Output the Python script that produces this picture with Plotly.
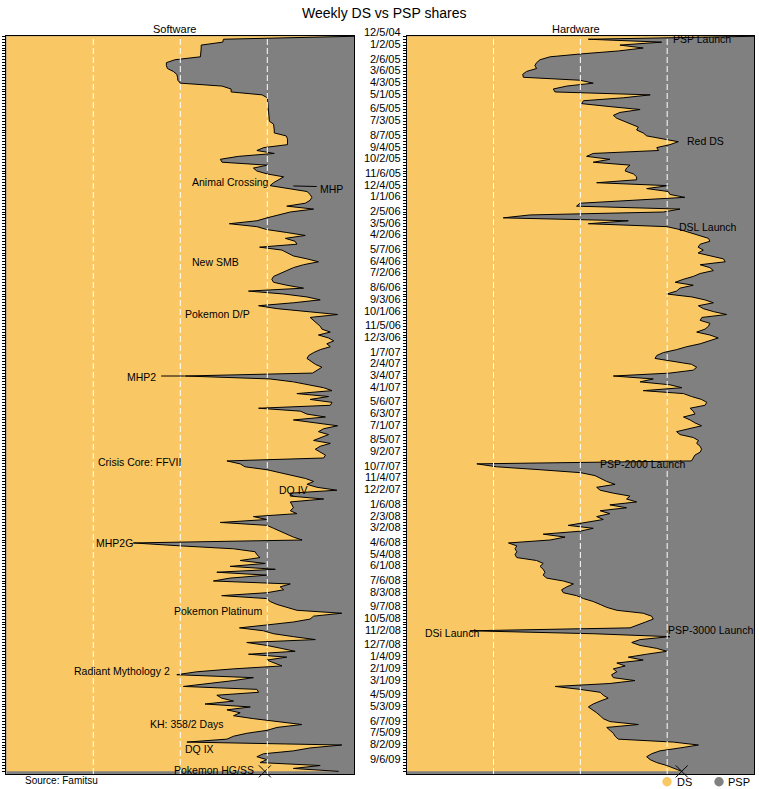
import pandas as pd
import plotly.graph_objects as go

W, H = 759, 789

# ---------------- data (weekly DS share, %) ----------------
week_start = "2004-12-05"

software_ds = [
    100, 62.4, 62.2, 56.0, 56.0, 56.0, 55.9, 55.8, 48.5, 46.0,
    46.0, 46.3, 48.0, 49.0, 49.2, 49.3, 50.0, 62.0, 64.6, 64.6,
    73.5, 75.0, 75.1, 75.2, 75.2, 75.2, 75.4, 75.4, 75.5, 75.6,
    76.8, 77.0, 77.0, 77.0, 80.4, 80.8, 80.8, 80.8, 74.0, 72.0,
    77.0, 66.7, 61.5, 62.0, 75.0, 71.0, 72.0, 75.0, 79.7, 78.2,
    76.8, 75.8, 81.6, 86.4, 87.3, 87.8, 87.3, 85.9, 80.6, 88.3,
    81.6, 77.8, 74.9, 72.0, 64.1, 72.0, 74.9, 80.6, 85.9, 80.2,
    83.0, 83.5, 72.8, 79.2, 81.1, 82.5, 86.4, 89.7, 85.4, 82.5,
    80.6, 78.7, 76.8, 76.3, 76.8, 80.6, 85.4, 69.6, 79.7, 86.4,
    90.2, 82.5, 72.5, 77.8, 87.3, 95.2, 87.3, 88.3, 89.3, 90.2,
    90.7, 93.1, 89.7, 92.6, 94.1, 92.1, 93.1, 90.2, 88.3, 86.9,
    86.4, 87.8, 88.8, 90.7, 89.3, 88.0, 51.4, 75.8, 82.5, 87.3,
    91.2, 93.6, 83.5, 92.6, 87.3, 93.6, 93.1, 72.5, 84.5, 86.4,
    91.7, 82.5, 88.3, 95.2, 91.2, 89.7, 92.6, 90.2, 88.3, 93.1,
    90.2, 88.8, 90.2, 91.7, 91.2, 63.4, 67.2, 68.6, 74.9, 78.7,
    82.0, 86.0, 88.3, 86.4, 89.3, 95.0, 81.6, 81.6, 91.2, 81.6,
    82.1, 82.5, 81.6, 83.5, 71.0, 74.9, 61.5, 74.9, 76.8, 78.7,
    80.6, 82.5, 85.0, 36.5, 50.0, 65.3, 71.5, 72.0, 72.9, 67.2,
    74.4, 64.3, 77.3, 60.5, 74.9, 64.3, 59.5, 81.6, 78.7, 79.7,
    74.9, 61.9, 74.9, 75.8, 77.8, 80.6, 83.5, 96.4, 88.3, 87.3,
    82.5, 74.9, 67.0, 73.9, 76.8, 82.5, 88.8, 69.1, 74.9, 79.0,
    83.0, 69.6, 80.6, 74.9, 77.3, 79.2, 65.3, 54.7, 49.0, 71.0,
    65.3, 57.6, 50.9, 72.0, 72.5, 60.5, 61.9, 65.3, 57.1, 70.1,
    63.4, 67.2, 65.3, 71.0, 77.8, 84.9, 77.8, 74.9, 69.1, 65.3,
    63.4, 51.9, 96.4, 87.3, 82.5, 73.9, 72.0, 74.9, 72.9, 90.2,
    82.5, 95.5,
]

hardware_ds = [
    100, 52.3, 73.4, 61.4, 68.1, 61.0, 50.4, 41.3, 38.4, 37.4,
    36.9, 37.4, 34.5, 33.4, 33.6, 49.9, 53.7, 46.1, 42.2, 42.7,
    70.1, 62.4, 50.9, 50.4, 58.5, 67.2, 61.4, 59.5, 60.5, 62.7,
    64.3, 66.7, 66.2, 68.1, 69.1, 73.9, 78.2, 75.8, 72.0, 72.5,
    53.7, 51.8, 58.5, 53.7, 64.3, 63.3, 62.9, 65.3, 66.2, 66.2,
    54.7, 75.3, 69.1, 75.3, 75.8, 80.1, 65.3, 49.9, 48.9, 78.7,
    73.9, 35.5, 27.8, 63.8, 52.3, 74.9, 78.7, 81.6, 84.5, 86.9,
    87.3, 84.5, 83.9, 85.4, 83.9, 87.3, 91.2, 91.7, 84.5, 87.3,
    88.3, 84.5, 82.5, 79.6, 77.3, 82.5, 78.7, 77.7, 74.9, 82.1,
    85.9, 88.3, 84.0, 85.4, 88.3, 92.1, 85.0, 84.5, 87.3, 86.9,
    85.9, 83.5, 87.3, 89.7, 87.3, 84.5, 80.6, 77.7, 73.9, 72.0,
    71.5, 76.8, 82.0, 83.5, 82.5, 75.8, 59.5, 71.0, 67.2, 75.8,
    79.2, 68.1, 79.7, 82.0, 84.9, 86.4, 85.9, 81.6, 82.5, 83.0,
    79.7, 81.6, 83.0, 84.9, 81.6, 77.7, 78.7, 82.5, 84.0, 83.5,
    84.5, 84.9, 84.5, 83.0, 82.5, 82.0, 20.2, 25.9, 38.4, 50.0,
    54.2, 55.7, 57.6, 60.0, 54.7, 55.7, 59.5, 64.3, 63.3, 66.2,
    58.5, 63.3, 55.7, 58.5, 54.7, 56.6, 50.9, 46.5, 53.7, 49.9,
    39.3, 45.6, 41.3, 29.3, 31.7, 31.2, 31.7, 31.2, 31.7, 37.4,
    39.3, 38.4, 39.3, 39.8, 39.3, 40.3, 45.1, 48.0, 46.1, 44.6,
    45.1, 48.9, 50.9, 53.7, 55.7, 57.6, 60.5, 68.1, 70.5, 71.0,
    68.8, 66.2, 64.3, 18.2, 53.7, 75.8, 67.2, 64.8, 67.2, 72.0,
    74.9, 69.1, 63.8, 68.1, 60.5, 62.9, 59.5, 60.5, 59.0, 59.5,
    65.7, 58.5, 42.7, 49.9, 55.7, 56.6, 58.0, 55.7, 53.7, 52.3,
    53.7, 54.7, 55.7, 56.6, 58.5, 66.7, 57.6, 58.5, 59.5, 60.0,
    60.9, 76.8, 84.0, 78.7, 72.9, 70.5, 69.1, 70.1, 72.0, 74.9,
    76.8, 79.2,
]

software_psp = [round(100 - v, 1) for v in software_ds]
hardware_psp = [round(100 - v, 1) for v in hardware_ds]

date_labels = [
    "12/5/04", "1/2/05", "2/6/05", "3/6/05", "4/3/05", "5/1/05", "6/5/05", "7/3/05",
    "8/7/05", "9/4/05", "10/2/05", "11/6/05", "12/4/05", "1/1/06", "2/5/06", "3/5/06",
    "4/2/06", "5/7/06", "6/4/06", "7/2/06", "8/6/06", "9/3/06", "10/1/06", "11/5/06",
    "12/3/06", "1/7/07", "2/4/07", "3/4/07", "4/1/07", "5/6/07", "6/3/07", "7/1/07",
    "8/5/07", "9/2/07", "10/7/07", "11/4/07", "12/2/07", "1/6/08", "2/3/08", "3/2/08",
    "4/6/08", "5/4/08", "6/1/08", "7/6/08", "8/3/08", "9/7/08", "10/5/08", "11/2/08",
    "12/7/08", "1/4/09", "2/1/09", "3/1/09", "4/5/09", "5/3/09", "6/7/09", "7/5/09",
    "8/2/09", "9/6/09",
]

# event notes: text, x position (% share), week index
sw_note_text = ["Animal Crossing", "MHP", "New SMB", "Pokemon D/P", "MHP2",
                "Crisis Core: FFVII", "DQ IV", "MHP2G", "Pokemon Platinum",
                "Radiant Mythology 2", "KH: 358/2 Days", "DQ IX", "Pokemon HG/SS"]
sw_note_x = [53.1, 89.8, 53.1, 51.1, 34.3, 26.1, 78.1, 25.5, 47.9, 19.2, 41.0, 51.1, 47.9]
sw_note_week = [49.8, 52.1, 77.0, 94.9, 116.4, 145.2, 154.9, 173.1, 196.4, 216.6, 234.8, 243.4, 250.7]

hw_note_text = ["PSP Launch", "Red DS", "DSL Launch", "PSP-2000 Launch", "DSi Launch", "PSP-3000 Launch"]
hw_note_x = [76.4, 80.4, 78.1, 55.4, 5.0, 74.9]
hw_note_week = [0.9, 35.6, 65.0, 146.1, 203.8, 202.7]

hgss_marker_share = [74.3, hardware_ds[-1]]

# ---------------- styling ----------------
ORANGE = "#F9C865"
GREY = "#808080"
FONT = "Liberation Sans, Arial, sans-serif"

weeks = pd.date_range(week_start, periods=len(software_ds), freq="7D")
t0 = pd.Timestamp(week_start)
WEEK = pd.Timedelta(days=7)


def wk(w):
    return t0 + WEEK * w


def px(x):
    return x / W


def py(y):
    return 1 - y / H


y_range = [wk(251.9), wk(-0.1)]  # reversed (time runs downward)
label_dates = pd.to_datetime(date_labels, format="%m/%d/%y")

fig = go.Figure()

panels = [("x", "y", software_ds, software_psp), ("x2", "y2", hardware_ds, hardware_psp)]
for xa, ya, ds, psp in panels:
    total = [a + b for a, b in zip(ds, psp)]
    fig.add_trace(go.Scatter(x=total, y=weeks, mode="lines", fill="tozerox",
                             fillcolor=GREY, line=dict(width=0, color=GREY),
                             xaxis=xa, yaxis=ya, name="PSP", showlegend=False,
                             hoverinfo="skip"))
    fig.add_trace(go.Scatter(x=ds, y=weeks, mode="lines", fill="tozerox",
                             fillcolor=ORANGE, line=dict(width=1, color="black"),
                             xaxis=xa, yaxis=ya, name="DS", showlegend=False))

# HG/SS "x" markers
for (xa, ya), v in zip([("x", "y"), ("x2", "y2")], hgss_marker_share):
    fig.add_trace(go.Scatter(x=[v], y=[weeks[-1]], mode="markers", xaxis=xa, yaxis=ya,
                             marker=dict(symbol="x-thin", size=12,
                                         line=dict(width=1, color="black"), color="black"),
                             cliponaxis=False, showlegend=False, hoverinfo="skip"))

xax = dict(range=[0, 100], showticklabels=False, ticks="", showgrid=False,
           zeroline=False, showline=True, mirror=True, linecolor="black",
           linewidth=1, fixedrange=True)
yax = dict(type="date", range=y_range, domain=[py(774), py(36)],
           tickmode="linear", tick0=week_start, dtick=7 * 86400000,
           ticks="outside", ticklen=3, tickcolor="black", tickwidth=1,
           showticklabels=False, showgrid=False, zeroline=False,
           showline=True, mirror=True, linecolor="black", linewidth=1)

fig.update_layout(
    width=W, height=H, autosize=False,
    margin=dict(l=0, r=0, t=0, b=0),
    paper_bgcolor="white", plot_bgcolor=GREY,
    font=dict(family=FONT, size=11, color="black"),
    xaxis=dict(xax, domain=[px(6.3), px(354.3)], anchor="y"),
    xaxis2=dict(xax, domain=[px(406.7), px(754)], anchor="y2"),
    yaxis=dict(yax, anchor="x"),
    yaxis2=dict(yax, anchor="x2"),
    showlegend=False,
)

shapes = []
for xa, ya in [("x", "y"), ("x2", "y2")]:
    for g in (25, 50, 75):
        shapes.append(dict(type="line", xref=xa, yref=ya + " domain", x0=g, x1=g, y0=0, y1=1,
                           line=dict(color="white", width=1, dash="6px,3px"), layer="above"))
# pointer lines
shapes.append(dict(type="line", xref="x", yref="y", x0=44.5, x1=51.3, y0=wk(116), y1=wk(116),
                   line=dict(color="black", width=1)))
shapes.append(dict(type="line", xref="x", yref="y", x0=82.5, x1=89.2, y0=wk(51.1), y1=wk(51.3),
                   line=dict(color="black", width=1)))
# manual legend circles
shapes.append(dict(type="circle", xref="paper", yref="paper",
                   x0=px(662.3), x1=px(671.7), y0=py(786.4), y1=py(777),
                   fillcolor=ORANGE, line=dict(width=0)))
shapes.append(dict(type="circle", xref="paper", yref="paper",
                   x0=px(714.3), x1=px(723.7), y0=py(786.4), y1=py(777),
                   fillcolor=GREY, line=dict(width=0)))

ann = []
ann.append(dict(text="Weekly DS vs PSP shares", x=px(384), y=py(13.3), xref="paper", yref="paper",
                showarrow=False, xanchor="center", yanchor="middle", font=dict(size=14)))
ann.append(dict(text="Software", x=px(174), y=py(29.3), xref="paper", yref="paper",
                showarrow=False, xanchor="center", yanchor="middle"))
ann.append(dict(text="Hardware", x=px(576), y=py(29.3), xref="paper", yref="paper",
                showarrow=False, xanchor="center", yanchor="middle"))
ann.append(dict(text="Source: Famitsu", x=px(23), y=py(780), xref="paper", yref="paper",
                showarrow=False, xanchor="left", yanchor="middle", font=dict(size=10)))
ann.append(dict(text="DS", x=px(675), y=py(782), xref="paper", yref="paper",
                showarrow=False, xanchor="left", yanchor="middle"))
ann.append(dict(text="PSP", x=px(726), y=py(782), xref="paper", yref="paper",
                showarrow=False, xanchor="left", yanchor="middle"))

for lbl, d in zip(date_labels, label_dates):
    ann.append(dict(text=lbl, x=px(403), y=d, xref="paper", yref="y2", yshift=4,
                    showarrow=False, xanchor="right", yanchor="middle"))

for t, xv, w in zip(sw_note_text, sw_note_x, sw_note_week):
    ann.append(dict(text=t, x=xv, y=wk(w), xref="x", yref="y", showarrow=False,
                    xanchor="left", yanchor="middle", borderpad=0, font=dict(size=10.5)))
for t, xv, w in zip(hw_note_text, hw_note_x, hw_note_week):
    ann.append(dict(text=t, x=xv, y=wk(w), xref="x2", yref="y2", showarrow=False,
                    xanchor="left", yanchor="middle", borderpad=0, font=dict(size=10.5)))

fig.update_layout(shapes=shapes, annotations=ann)

fig.write_html("out.html")
